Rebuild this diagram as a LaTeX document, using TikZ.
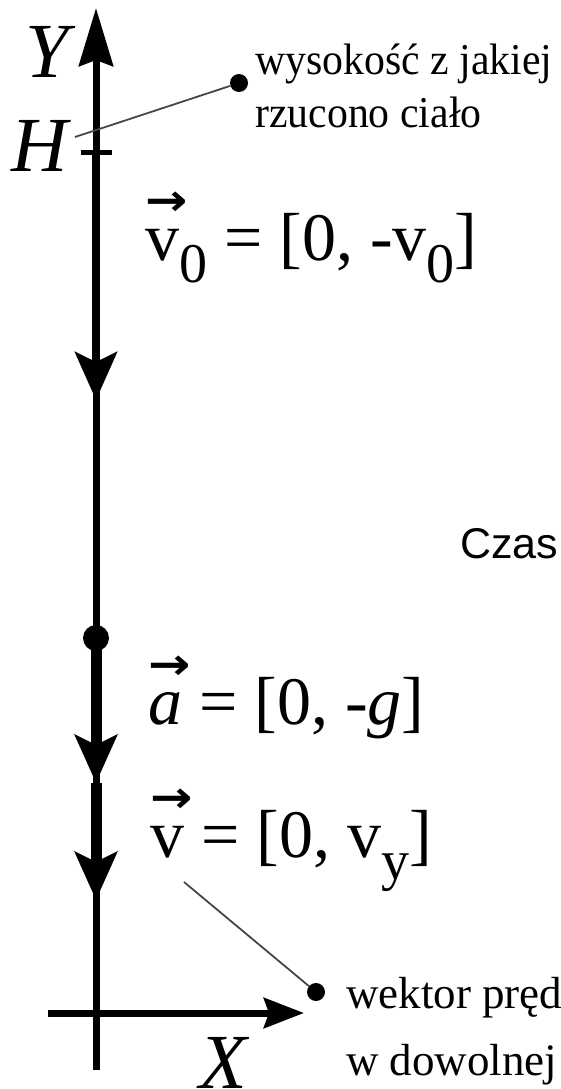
\documentclass[tikz,border=0pt]{standalone}
\usepackage{fontspec}
\setmainfont{Liberation Serif}
\newfontfamily\notefont[FakeStretch=0.95]{Liberation Serif}
\newfontfamily\arrfont{DejaVu Sans}
\newfontfamily\czasfont{Liberation Sans}
\usepackage{graphicx}
\usetikzlibrary{arrows.meta,positioning}
\definecolor{leadGray}{RGB}{70,70,70}

% small arrow over a letter, and a lowered index
\newcommand{\vecmark}[1]{\makebox[0pt][l]{\raisebox{45pt}{\scalebox{1.1}[0.95]{\arrfont\bfseries\fontsize{46}{46}\selectfont →}}}#1}
\newcommand{\lowsub}[1]{\raisebox{-22pt}{\fontsize{56}{56}\selectfont #1}}

\begin{document}
\begin{tikzpicture}[
  x=1pt, y=-1pt,
  axis/.style={line width=7pt, black},
  vec/.style={line width=#1, black,
              -{Stealth[length=48pt, width=42pt, inset=10pt]}},
  lead/.style={line width=1.8pt, leadGray},
  dot/.style={circle, fill=black, inner sep=0pt, minimum size=#1},
  axlab/.style={font=\fontsize{78}{78}\selectfont\itshape, inner sep=0pt},
  formula/.style={font=\fontsize{68}{68}\selectfont, inner sep=0pt,
                  anchor=base west},
  note/.style={font=\notefont\fontsize{44}{44}\selectfont, inner sep=0pt,
               anchor=base west},
  note2/.style={font=\fontsize{45}{45}\selectfont, inner sep=0pt,
                anchor=base west}
]
  \useasboundingbox (0,0) rectangle (560,1089);

  % axes
  \coordinate (ybot) at (96,1070);
  \coordinate (ytop) at (96,8);
  \coordinate (xleft) at (48,1013);
  \coordinate (xtip) at (304,1013);
  \coordinate (H) at (96,152);
  \draw[axis, -{Stealth[length=58pt, width=34pt, inset=6pt]}] (ybot) -- (ytop);
  \draw[axis, -{Stealth[length=40pt, width=30pt, inset=5pt]}] (xleft) -- (xtip);
  \draw[axis, line width=5pt] (H) ++(-15,0) -- ++(31,0);

  \node[axlab] (ylab) at (47,52) {Y};
  \node[axlab] (hlab) at (40,146) {H};
  \node[axlab] (xlab) at (223,1063) {X};

  % vectors
  \coordinate (v0tip) at (96,400);
  \node[dot=26pt] (body) at (96,638) {};
  \coordinate (atip) at (96,783);
  \coordinate (vtip) at (96,900);
  \draw[vec=7.5pt] (H) -- (v0tip);
  \draw[vec=11pt] (body.center) -- (atip);
  \draw[vec=11pt] (atip) -- (vtip);

  \node[formula] (v0lab) at (145,260) {\vecmark{v}\lowsub{0} = [0, -v\lowsub{0}]};
  \node[formula] (alab) at (148,724) {\vecmark{\textit{a}} = [0, -\textit{g}]};
  \node[formula] (vlab) at (150,857) {\vecmark{v} = [0, v\lowsub{y}]};

  % notes
  \coordinate (hend) at (75,137);
  \node[dot=18pt] (hdot) at (239,83) {};
  \draw[lead] (hend) -- (hdot);
  \node[note] (hnote1) at (255,75) {wysokość z jakiej};
  \node[note] (hnote2) at (255,128) {rzucono ciało};

  \coordinate (vend) at (184,882);
  \node[dot=18pt] (vdot) at (316,992) {};
  \draw[lead] (vend) -- (vdot);
  \node[note2] (vnote1) at (346,1008) {wektor pręd};
  \node[note2] (vnote2) at (346,1075) {w dowolnej};

  \node[font=\czasfont\fontsize{43}{43}\selectfont, inner sep=0pt,
        anchor=base west] (czas) at (460,558) {Czas};
\end{tikzpicture}
\end{document}
